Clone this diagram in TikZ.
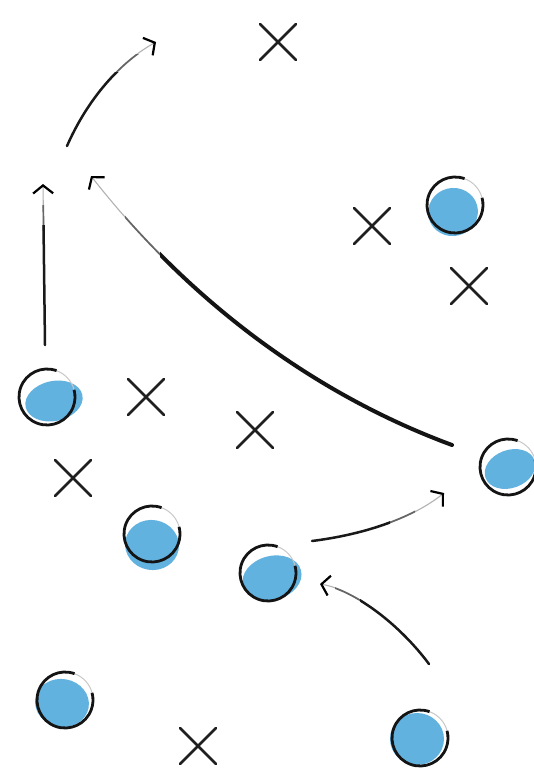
\documentclass[tikz,border=0pt]{standalone}
\usetikzlibrary{arrows.meta}
\begin{document}
\definecolor{ballblue}{RGB}{98,178,224}
\tikzset{
  xmark/.style={line width=2.8pt, line cap=round, black!88},
  rim/.style={line width=2.8pt, black!92},
  rimfaint/.style={line width=1pt, black!22},
  shaft/.style={line width=2.5pt, line cap=round, black!90},
  bigshaft/.style={line width=4pt, line cap=round, black!92},
  midshaft/.style={line width=1.7pt, line cap=round, black!60},
  fadeshaft/.style={line width=1.1pt, line cap=round, black!30},
  tipped/.style={-{Straight Barb[length=8pt,width=20pt,line width=2.2pt,color=black]}}
}
% name, cx, cy, blue cx, blue cy, rx, ry, rotation
\newcommand\drawball[8]{%
  \coordinate (#1) at (#2,#3);
  \fill[ballblue, rotate around={#8:(#4,#5)}] (#4,#5) ellipse [x radius=#6pt, y radius=#7pt];
  \draw[rimfaint] (#1) ++(15:28pt) arc[start angle=15, end angle=70, radius=28pt];
  \draw[rim] (#1) ++(70:28pt) arc[start angle=70, end angle=375, radius=28pt];
}
\newcommand\drawx[3]{%
  \coordinate (#1) at (#2,#3);
  \draw[xmark] (#1) ++(-18,-18) -- ++(36,36);
  \draw[xmark] (#1) ++(18,-18) -- ++(-36,36);
}
\begin{tikzpicture}[x=1pt,y=-1pt]
\useasboundingbox (0,0) rectangle (533,776);
\fill[white] (0,0) rectangle (533,776);

% balls
\drawball{b1}{455}{205}{453}{212}{25}{24}{15}
\drawball{b2}{47}{397}{54}{401}{29}{20}{12}
\drawball{b3}{508}{467}{510}{469}{26}{19}{20}
\drawball{b4}{152}{534}{152}{545}{27}{25}{-10}
\drawball{b5}{268}{573}{272}{578}{30}{22}{15}
\drawball{b6}{65}{700}{62}{703}{27}{24}{-10}
\drawball{b7}{420}{738}{417}{739}{27}{26}{0}

% crosses
\drawx{x1}{278}{42}
\drawx{x2}{372}{226}
\drawx{x3}{469}{286}
\drawx{x4}{146}{397}
\drawx{x5}{255}{430}
\drawx{x6}{73}{478}
\drawx{x7}{198}{746}

% arrow end points
\coordinate (v0) at (45,345);  \coordinate (v1) at (43,184);
\coordinate (t0) at (67,146);  \coordinate (t1) at (156,42);
\coordinate (g0) at (452,445); \coordinate (g1) at (91,176);
\coordinate (m0) at (312,541); \coordinate (m1) at (444,493);
\coordinate (r0) at (429,664); \coordinate (r1) at (320,584);

% ---- vertical arrow
\draw[fadeshaft, tipped] (v0) -- (v1);
\begin{scope}
  \clip (0,205) rectangle (100,230);
  \draw[midshaft] (v0) -- (v1);
\end{scope}
\begin{scope}
  \clip (0,225) rectangle (100,400);
  \draw[shaft] (v0) -- (v1);
\end{scope}

% ---- top-left curved arrow
\draw[fadeshaft, tipped] (t0) .. controls (85,105) and (115,65) .. (t1);
\begin{scope}
  \clip (0,55) rectangle (200,75);
  \draw[midshaft] (t0) .. controls (85,105) and (115,65) .. (t1);
\end{scope}
\begin{scope}
  \clip (0,72) rectangle (200,200);
  \draw[shaft] (t0) .. controls (85,105) and (115,65) .. (t1);
\end{scope}

% ---- big arrow
\draw[fadeshaft, tipped] (g0) .. controls (330,400) and (200,315) .. (g1);
\begin{scope}
  \clip (125,0) rectangle (165,776);
  \draw[midshaft] (g0) .. controls (330,400) and (200,315) .. (g1);
\end{scope}
\begin{scope}
  \clip (160,0) rectangle (533,776);
  \draw[bigshaft] (g0) .. controls (330,400) and (200,315) .. (g1);
\end{scope}

% ---- bottom middle arrow
\draw[fadeshaft, tipped] (m0) .. controls (360,535) and (410,520) .. (m1);
\begin{scope}
  \clip (385,400) rectangle (415,600);
  \draw[midshaft] (m0) .. controls (360,535) and (410,520) .. (m1);
\end{scope}
\begin{scope}
  \clip (250,400) rectangle (390,600);
  \draw[shaft] (m0) .. controls (360,535) and (410,520) .. (m1);
\end{scope}

% ---- bottom right arrow
\draw[fadeshaft, tipped] (r0) .. controls (400,625) and (355,590) .. (r1);
\begin{scope}
  \clip (335,550) rectangle (365,700);
  \draw[midshaft] (r0) .. controls (400,625) and (355,590) .. (r1);
\end{scope}
\begin{scope}
  \clip (360,550) rectangle (500,700);
  \draw[shaft] (r0) .. controls (400,625) and (355,590) .. (r1);
\end{scope}
\end{tikzpicture}
\end{document}
